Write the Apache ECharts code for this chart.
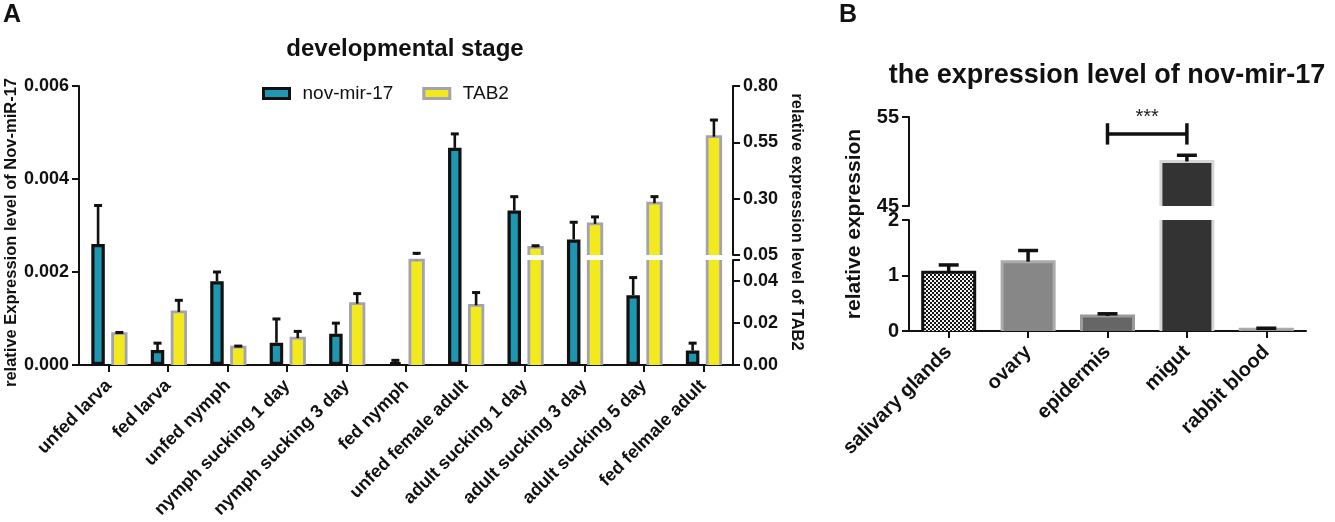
<!DOCTYPE html>
<html><head><meta charset="utf-8">
<script src="https://cdn.jsdelivr.net/npm/echarts@6/dist/echarts.min.js"></script>
<style>html,body{margin:0;padding:0;background:#fff}#c{width:1335px;height:522px}</style>
</head><body><div id="c"></div>
<script>
// ---------- data ----------
const stages = ['unfed larva','fed larva','unfed nymph','nymph sucking 1 day','nymph sucking 3 day','fed nymph','unfed female adult','adult sucking 1 day','adult sucking 3 day','adult sucking 5 day','fed felmale adult'];
const mirMean = [0.0026, 0.00032, 0.0018, 0.00048, 0.00067, 0.00006, 0.00467, 0.00332, 0.0027, 0.0015, 0.00031];
const mirSD   = [0.00083, 0.00015, 0.0002, 0.00051, 0.00023, 0.00004, 0.0003, 0.0003, 0.00037, 0.00038, 0.00016];
const tabMean = [0.0149, 0.0253, 0.0085, 0.0128, 0.0292, 0.0499, 0.0284, 0.084, 0.188, 0.28, 0.575];
const tabSD   = [0.0006, 0.0055, 0.0005, 0.0032, 0.0048, 0.0076, 0.0061, 0.007, 0.031, 0.029, 0.074];
const mirTicks = [0, 0.002, 0.004, 0.006];
const tabLowTicks = [0, 0.02, 0.04];
const tabHighTicks = [0.05, 0.30, 0.55, 0.80];

const tissues = ['salivary glands','ovary','epidermis','migut','rabbit blood'];
const tissueMean = [1.06, 1.25, 0.27, 50.0, 0.03];
const tissueSD   = [0.13, 0.2, 0.04, 0.7, 0.02];
const tissueLowTicks = [0, 1, 2];
const tissueHighTicks = [45, 55];
const sigPair = ['epidermis', 'migut'];
const sigLabel = '***';

// ---------- styles ----------
const FF = "'Liberation Sans', Arial, Helvetica, sans-serif";
const INK = '#111';
const TEAL = '#1e98b2', YEL = '#f2ea1c', YEL_B = '#a2a2b2';
const pat = document.createElement('canvas');
pat.width = 4; pat.height = 4;
(function(){ const c = pat.getContext('2d'); c.fillStyle = '#f4f4f4'; c.fillRect(0,0,4,4); c.fillStyle = '#151515'; c.fillRect(0,0,2,2); c.fillRect(2,2,2,2); })();
const tissueStyles = [
  {fill: {image: pat, repeat: 'repeat'}, stroke: '#111'},
  {fill: '#878787', stroke: '#ababab'},
  {fill: '#666666', stroke: '#9a9a9a'},
  {fill: '#333333', stroke: '#d6d6d6'},
  {fill: '#555555', stroke: '#aaaaaa'}
];
const yelStyle = {fill: YEL, stroke: YEL_B};

const valData = (m) => m.map((v, i) => [i, v]);
const errData = (m, s) => m.map((v, i) => [i, v, v + s[i]]);

// bar segment drawn through the axis scales, clipped to [lo, hi] without border at the cut
function makeBar(offset, halfW, lo, hi, lw, styleOf) {
  return function (params, api) {
    const i = api.value(0), v = api.value(1);
    if (v <= lo) return null;
    const base = Math.max(0, lo), top = Math.min(v, hi);
    const p0 = api.coord([i, base]), p1 = api.coord([i, top]);
    const x = p0[0] + offset, xl = x - halfW, xr = x + halfW;
    const st = styleOf(params.dataIndex);
    const ch = [{type: 'rect', shape: {x: xl, y: p1[1], width: 2 * halfW, height: p0[1] - p1[1]}, style: {fill: st.fill}}];
    if (v <= hi) {
      ch.push({type: 'polyline', shape: {points: [[xl, p0[1]], [xl, p1[1]], [xr, p1[1]], [xr, p0[1]]]}, style: {stroke: st.stroke, lineWidth: lw, fill: null}});
    } else {
      ch.push({type: 'line', shape: {x1: xl, y1: p0[1], x2: xl, y2: p1[1]}, style: {stroke: st.stroke, lineWidth: lw}});
      ch.push({type: 'line', shape: {x1: xr, y1: p0[1], x2: xr, y2: p1[1]}, style: {stroke: st.stroke, lineWidth: lw}});
    }
    return {type: 'group', children: ch};
  };
}
function makeErr(offset, lo, hi, halfCap, lw, capLw) {
  return function (params, api) {
    const i = api.value(0), m = api.value(1), t = api.value(2);
    if (t < lo || m >= hi) return null;
    const a = Math.max(m, lo), b = Math.min(t, hi);
    const p1 = api.coord([i, a]), p2 = api.coord([i, b]);
    const x = p1[0] + offset;
    const ch = [{type: 'line', shape: {x1: x, y1: p1[1], x2: x, y2: p2[1]}, style: {stroke: INK, lineWidth: lw}}];
    if (t <= hi) ch.push({type: 'line', shape: {x1: x - halfCap, y1: p2[1], x2: x + halfCap, y2: p2[1]}, style: {stroke: INK, lineWidth: capLw}});
    return {type: 'group', children: ch};
  };
}

const axLine = {show: true, lineStyle: {color: INK, width: 2}};
const axTick = {show: true, length: 7, lineStyle: {color: INK, width: 2}};
const lab = (size) => ({color: INK, fontSize: size, fontWeight: 'bold', fontFamily: FF});
const gridBase = {outerBoundsMode: 'none', containLabel: false};
const hiddenX = (gi, cats) => ({gridIndex: gi, type: 'category', data: cats, show: false});

const option = {
  animation: false,
  backgroundColor: '#fff',
  textStyle: {fontFamily: FF},
  title: [
    {text: 'A', left: 3, top: 3, padding: 0, textStyle: {fontSize: 25, fontWeight: 'bold', color: INK, fontFamily: FF}},
    {text: 'developmental stage', left: 405, top: 37, padding: 0, textAlign: 'center', textStyle: {fontSize: 24, fontWeight: 'bold', color: INK, fontFamily: FF}},
    {text: 'B', left: 839, top: 3, padding: 0, textStyle: {fontSize: 25, fontWeight: 'bold', color: INK, fontFamily: FF}},
    {text: 'the expression level of nov-mir-17', left: 1107, top: 62, padding: 0, textAlign: 'center', textStyle: {fontSize: 27, fontWeight: 'bold', color: INK, fontFamily: FF}}
  ],
  legend: {
    left: 262, top: 84, padding: 0, itemWidth: 26, itemHeight: 10, itemGap: 29, selectedMode: false,
    textStyle: {fontSize: 19, color: INK, fontFamily: FF, padding: [0, 0, 0, 8]},
    data: [
      {name: 'nov-mir-17', icon: 'rect', itemStyle: {color: TEAL, borderColor: INK, borderWidth: 3}},
      {name: 'TAB2', icon: 'rect', itemStyle: {color: YEL, borderColor: YEL_B, borderWidth: 3}}
    ]
  },
  grid: [
    Object.assign({left: 79, top: 86, width: 654, height: 279}, gridBase),
    Object.assign({left: 79, top: 260, width: 654, height: 105}, gridBase),
    Object.assign({left: 79, top: 86, width: 654, height: 169}, gridBase),
    Object.assign({left: 909, top: 220, width: 397, height: 111}, gridBase),
    Object.assign({left: 909, top: 117, width: 397, height: 89}, gridBase),
    Object.assign({left: 909, top: 117, width: 397, height: 214}, gridBase)
  ],
  xAxis: [
    {gridIndex: 0, type: 'category', data: stages, axisLine: axLine, axisTick: Object.assign({alignWithLabel: true}, axTick),
     axisLabel: Object.assign({interval: 0, rotate: 45, margin: 18}, lab(18))},
    hiddenX(1, stages), hiddenX(2, stages),
    {gridIndex: 3, type: 'category', data: tissues, axisLine: axLine, axisTick: Object.assign({alignWithLabel: true}, axTick),
     axisLabel: Object.assign({interval: 0, rotate: 45, margin: 18}, lab(20))},
    hiddenX(4, tissues), hiddenX(5, tissues)
  ],
  yAxis: [
    {gridIndex: 0, type: 'value', position: 'left', min: 0, max: 0.006, splitLine: {show: false},
     axisLine: axLine, axisTick: Object.assign({customValues: mirTicks}, axTick),
     axisLabel: Object.assign({customValues: mirTicks, margin: 10, formatter: v => v.toFixed(3)}, lab(18)),
     name: 'relative Expression level of Nov-miR-17', nameLocation: 'middle', nameRotate: 90, nameGap: 59,
     nameTextStyle: {fontSize: 16.5, fontWeight: 'bold', color: INK, fontFamily: FF, padding: [0, 14, 0, 0]}},
    {gridIndex: 0, type: 'value', position: 'right', min: 0, max: 1, splitLine: {show: false},
     axisLine: {show: false}, axisTick: {show: false}, axisLabel: {show: false},
     name: 'relative expression level of TAB2', nameLocation: 'middle', nameRotate: -90, nameGap: 55,
     nameTextStyle: {fontSize: 16.5, fontWeight: 'bold', color: INK, fontFamily: FF, padding: [0, 7, 0, 0]}},
    {gridIndex: 1, type: 'value', position: 'right', min: 0, max: 0.05, splitLine: {show: false},
     axisLine: axLine, axisTick: Object.assign({customValues: tabLowTicks.concat([0.05])}, axTick),
     axisLabel: Object.assign({customValues: tabLowTicks, margin: 10, formatter: v => v.toFixed(2)}, lab(18))},
    {gridIndex: 2, type: 'value', position: 'right', min: 0.05, max: 0.8, splitLine: {show: false},
     axisLine: axLine, axisTick: Object.assign({customValues: tabHighTicks}, axTick),
     axisLabel: Object.assign({customValues: tabHighTicks, margin: 10, formatter: v => v.toFixed(2)}, lab(18))},
    {gridIndex: 3, type: 'value', position: 'left', min: 0, max: 2, splitLine: {show: false},
     axisLine: axLine, axisTick: Object.assign({customValues: tissueLowTicks}, axTick),
     axisLabel: Object.assign({customValues: tissueLowTicks, margin: 10}, lab(20))},
    {gridIndex: 4, type: 'value', position: 'left', min: 45, max: 55, splitLine: {show: false},
     axisLine: axLine, axisTick: Object.assign({customValues: tissueHighTicks}, axTick),
     axisLabel: Object.assign({customValues: tissueHighTicks, margin: 10}, lab(20))},
    {gridIndex: 5, type: 'value', position: 'left', min: 0, max: 1, splitLine: {show: false},
     axisLine: {show: false}, axisTick: {show: false}, axisLabel: {show: false},
     name: 'relative expression', nameLocation: 'middle', nameRotate: 90, nameGap: 44,
     nameTextStyle: {fontSize: 21, fontWeight: 'bold', color: INK, fontFamily: FF}}
  ],
  series: [
    {type: 'bar', name: 'nov-mir-17', xAxisIndex: 0, yAxisIndex: 0, data: mirMean, barWidth: 13.5, barGap: '58%',
     itemStyle: {color: TEAL, borderColor: INK, borderWidth: 3.2}},
    {type: 'bar', name: '_slotY', xAxisIndex: 0, yAxisIndex: 0, data: stages.map(() => '-'), barWidth: 13.5, barGap: '58%'},
    {type: 'custom', name: 'TAB2', xAxisIndex: 1, yAxisIndex: 2, data: valData(tabMean), encode: {x: 0, y: 1},
     itemStyle: {color: YEL, borderColor: YEL_B, borderWidth: 2.8},
     renderItem: makeBar(10.65, 6.75, 0, 0.05, 2.8, () => yelStyle)},
    {type: 'custom', name: 'TAB2', xAxisIndex: 2, yAxisIndex: 3, data: valData(tabMean), encode: {x: 0, y: 1},
     itemStyle: {color: YEL, borderColor: YEL_B, borderWidth: 2.8},
     renderItem: makeBar(10.65, 6.75, 0.05, 0.8, 2.8, () => yelStyle)},
    {type: 'custom', name: '_errMir', xAxisIndex: 0, yAxisIndex: 0, data: errData(mirMean, mirSD), encode: {x: 0, y: [1, 2]},
     renderItem: makeErr(-10.65, 0, 0.006, 4, 2.6, 3)},
    {type: 'custom', name: '_errTabLo', xAxisIndex: 1, yAxisIndex: 2, data: errData(tabMean, tabSD), encode: {x: 0, y: [1, 2]},
     renderItem: makeErr(10.65, 0, 0.05, 4, 2.6, 3)},
    {type: 'custom', name: '_errTabHi', xAxisIndex: 2, yAxisIndex: 3, data: errData(tabMean, tabSD), encode: {x: 0, y: [1, 2]},
     renderItem: makeErr(10.65, 0.05, 0.8, 4, 2.6, 3)},
    {type: 'custom', name: '_tissueLo', xAxisIndex: 3, yAxisIndex: 4, data: valData(tissueMean), encode: {x: 0, y: 1},
     renderItem: makeBar(0, 26, 0, 2, 3, i => tissueStyles[i])},
    {type: 'custom', name: '_tissueHi', xAxisIndex: 4, yAxisIndex: 5, data: valData(tissueMean), encode: {x: 0, y: 1},
     renderItem: makeBar(0, 26, 45, 55, 3, i => tissueStyles[i])},
    {type: 'custom', name: '_errTisLo', xAxisIndex: 3, yAxisIndex: 4, data: errData(tissueMean, tissueSD), encode: {x: 0, y: [1, 2]},
     renderItem: makeErr(0, 0, 2, 10, 3.5, 3.5)},
    {type: 'custom', name: '_errTisHi', xAxisIndex: 4, yAxisIndex: 5, data: errData(tissueMean, tissueSD), encode: {x: 0, y: [1, 2]},
     renderItem: makeErr(0, 45, 55, 10, 3.5, 3.5)},
    {type: 'custom', name: '_sig', xAxisIndex: 4, yAxisIndex: 5,
     data: [[tissues.indexOf(sigPair[0]), tissues.indexOf(sigPair[1]), 53.1]], encode: {x: [0, 1], y: 2},
     renderItem: function (params, api) {
       const y = api.value(2);
       const a = api.coord([api.value(0), y]), b = api.coord([api.value(1), y]);
       const top = api.coord([api.value(0), y + 1.2])[1], bot = api.coord([api.value(0), y - 1.2])[1];
       const ty = api.coord([api.value(0), 54.9])[1];
       const st = {stroke: INK, lineWidth: 3.5};
       return {type: 'group', children: [
         {type: 'line', shape: {x1: a[0], y1: a[1], x2: b[0], y2: b[1]}, style: st},
         {type: 'line', shape: {x1: a[0], y1: top, x2: a[0], y2: bot}, style: st},
         {type: 'line', shape: {x1: b[0], y1: top, x2: b[0], y2: bot}, style: st},
         {type: 'text', style: {text: sigLabel, x: (a[0] + b[0]) / 2, y: ty, align: 'center', verticalAlign: 'middle',
           fontSize: 20, fontFamily: FF, fill: '#222'}}
       ]};
     }}
  ]
};
const chart = echarts.init(document.getElementById('c'));
chart.setOption(option);
</script></body></html>
